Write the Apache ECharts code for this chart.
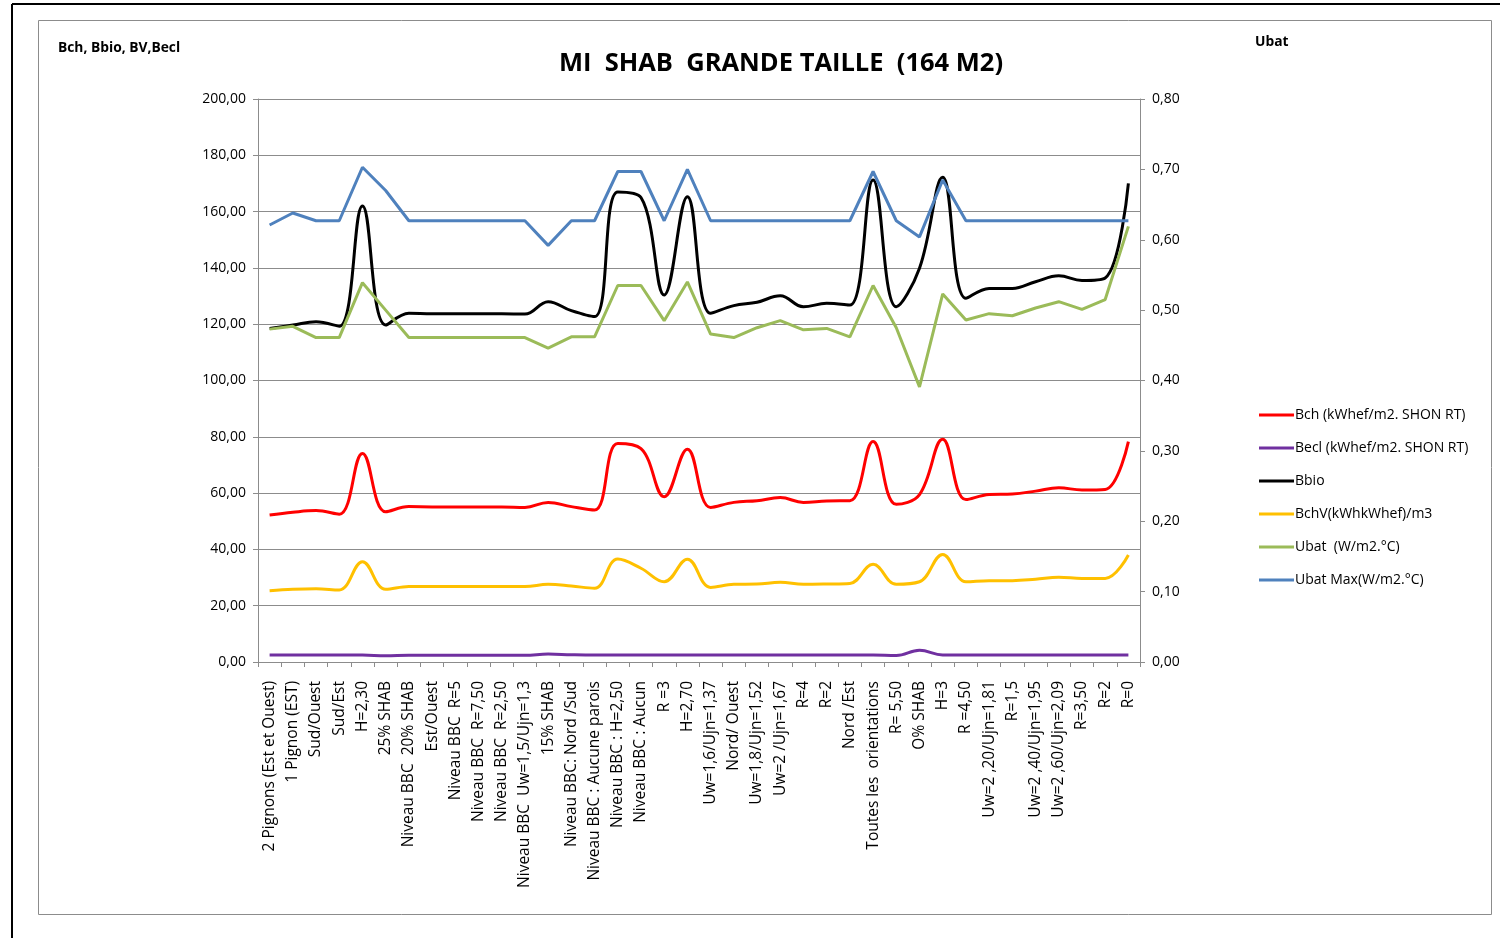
<!DOCTYPE html>
<html>
<head>
<meta charset="utf-8">
<script src="https://cdn.jsdelivr.net/npm/echarts@6/dist/echarts.min.js"></script>
<style>
  html, body { margin: 0; padding: 0; background: #fff; }
  #main { width: 1500px; height: 938px; }
</style>
</head>
<body>
<div id="main"></div>
<script>
// categories (x axis)
var categories = [
  '2 Pignons (Est et Ouest)', '1 Pignon (EST)', 'Sud/Ouest', 'Sud/Est', 'H=2,30',
  '25% SHAB', 'Niveau BBC  20% SHAB', 'Est/Ouest', 'Niveau BBC  R=5', 'Niveau BBC  R=7,50',
  'Niveau BBC  R=2,50', 'Niveau BBC  Uw=1,5/Ujn=1,3', '15% SHAB', 'Niveau BBC: Nord /Sud',
  'Niveau BBC : Aucune parois', 'Niveau BBC : H=2,50', 'Niveau BBC : Aucun', 'R =3', 'H=2,70',
  'Uw=1,6/Ujn=1,37', 'Nord/ Ouest', 'Uw=1,8/Ujn=1,52', 'Uw=2 /Ujn=1,67', 'R=4', 'R=2',
  'Nord /Est', 'Toutes les  orientations', 'R= 5,50', 'O% SHAB', 'H=3', 'R =4,50',
  'Uw=2 ,20/Ujn=1,81', 'R=1,5', 'Uw=2 ,40/Ujn=1,95', 'Uw=2 ,60/Ujn=2,09', 'R=3,50', 'R=2', 'R=0'
]

// left axis series
var bch = [52.2, 53.2, 53.8, 52.5, 74.1, 53.4, 55.2, 55.1, 55.1, 55.1,
  55.1, 54.9, 56.7, 55.2, 54.0, 77.6, 75.8, 58.7, 75.6, 54.9,
  56.7, 57.3, 58.4, 56.7, 57.2, 57.3, 78.3, 56.0, 59.5, 79.1,
  57.7, 59.5, 59.7, 60.7, 61.9, 61.1, 61.3, 78.3]
var becl = [2.5, 2.5, 2.5, 2.5, 2.5, 2.2, 2.4, 2.4, 2.4, 2.4,
  2.4, 2.4, 2.8, 2.6, 2.5, 2.5, 2.5, 2.5, 2.5, 2.5,
  2.5, 2.5, 2.5, 2.5, 2.5, 2.5, 2.5, 2.3, 4.2, 2.5,
  2.5, 2.5, 2.5, 2.5, 2.5, 2.5, 2.5, 2.5]
var bbio = [118.5, 119.7, 120.9, 119.3, 162.0, 119.7, 123.9, 123.7, 123.7, 123.7,
  123.7, 123.6, 128.0, 124.8, 122.7, 167.0, 165.0, 130.4, 165.3, 123.9,
  126.6, 127.8, 130.1, 126.2, 127.4, 126.8, 171.2, 126.2, 139.9, 172.2,
  129.2, 132.7, 132.7, 135.1, 137.2, 135.5, 136.4, 170.0]
var bchv = [25.3, 25.8, 26.0, 25.6, 35.6, 25.8, 26.8, 26.8, 26.8, 26.8,
  26.8, 26.8, 27.6, 27.0, 26.2, 36.6, 33.3, 28.5, 36.5, 26.5,
  27.6, 27.7, 28.3, 27.6, 27.7, 27.9, 34.7, 27.6, 28.5, 38.2,
  28.5, 28.9, 28.9, 29.4, 30.1, 29.7, 29.7, 38.0]

// right axis series
var ubat = [0.473, 0.477, 0.461, 0.461, 0.539, 0.500, 0.461, 0.461, 0.461, 0.461,
  0.461, 0.461, 0.446, 0.462, 0.462, 0.535, 0.535, 0.485, 0.540, 0.466,
  0.461, 0.475, 0.485, 0.472, 0.474, 0.462, 0.535, 0.475, 0.391, 0.523,
  0.486, 0.495, 0.492, 0.503, 0.512, 0.501, 0.515, 0.619]
var ubatMax = [0.621, 0.638, 0.627, 0.627, 0.703, 0.670, 0.627, 0.627, 0.627, 0.627,
  0.627, 0.627, 0.592, 0.627, 0.627, 0.697, 0.697, 0.627, 0.700, 0.627,
  0.627, 0.627, 0.627, 0.627, 0.627, 0.627, 0.697, 0.627, 0.604, 0.685,
  0.627, 0.627, 0.627, 0.627, 0.627, 0.627, 0.627, 0.627]

var fontFam = '"Open Sans", "Noto Sans", sans-serif'
function fr(v) { return v.toFixed(2).replace('.', ',') }

var chart = echarts.init(document.getElementById('main'))
var option = {
    animation: false,
    backgroundColor: '#fff',
    textStyle: { fontFamily: fontFam },
    title: {
        text: 'MI  SHAB  GRANDE TAILLE  (164 M2)',
        left: 776,
        textAlign: 'center',
        top: 46,
        textStyle: { fontSize: 25.5, fontWeight: 'bold', color: '#000', fontFamily: fontFam }
    },
    graphic: [
        { type: 'rect', shape: { x: 38.5, y: 20.5, width: 1453, height: 894 },
          style: { fill: 'none', stroke: '#8c8c8c', lineWidth: 1 } },
        { type: 'line', shape: { x1: 12, y1: 4, x2: 1500, y2: 4 }, style: { stroke: '#000', lineWidth: 2 } },
        { type: 'line', shape: { x1: 12, y1: 4, x2: 12, y2: 938 }, style: { stroke: '#000', lineWidth: 2 } },
        { type: 'text', left: 58, top: 41,
          style: { text: 'Bch, Bbio, BV,Becl', font: 'bold 13.8px ' + fontFam, fill: '#000' } },
        { type: 'text', left: 1255, top: 35,
          style: { text: 'Ubat', font: 'bold 13.8px ' + fontFam, fill: '#000' } }
    ],
    legend: {
        orient: 'vertical',
        left: 1254,
        top: 403,
        itemWidth: 35,
        itemHeight: 3,
        itemGap: 19,
        icon: 'rect',
        textStyle: { fontSize: 14, color: '#000', fontFamily: fontFam, padding: [0, 0, 0, -4] },
        data: ['Bch (kWhef/m2. SHON RT)', 'Becl (kWhef/m2. SHON RT)', 'Bbio',
               'BchV(kWhkWhef)/m3', 'Ubat  (W/m2.°C)', 'Ubat Max(W/m2.°C)']
    },
    grid: { left: 258, right: 360, top: 99, bottom: 276 },
    xAxis: {
        type: 'category',
        data: categories,
        boundaryGap: true,
        axisLine: { lineStyle: { color: '#8c8c8c' } },
        axisTick: { show: true, length: 5, interval: 0, lineStyle: { color: '#8c8c8c' } },
        axisLabel: { interval: 0, rotate: 90, fontSize: 15.5, color: '#000', margin: 19, fontFamily: fontFam }
    },
    yAxis: [
        {
            type: 'value', min: 0, max: 200, interval: 20,
            axisLine: { show: true, lineStyle: { color: '#8c8c8c' } },
            axisTick: { show: true, length: 5, lineStyle: { color: '#8c8c8c' } },
            axisLabel: { fontSize: 14, color: '#000', margin: 12, formatter: fr },
            splitLine: { lineStyle: { color: '#8c8c8c', width: 1 } }
        },
        {
            type: 'value', min: 0, max: 0.8, interval: 0.1,
            axisLine: { show: true, lineStyle: { color: '#8c8c8c' } },
            axisTick: { show: true, length: 5, lineStyle: { color: '#8c8c8c' } },
            axisLabel: { fontSize: 14, color: '#000', margin: 12, formatter: fr },
            splitLine: { show: false }
        }
    ],
    series: [
        { name: 'Bch (kWhef/m2. SHON RT)', type: 'line', data: bch, smooth: 0.4, symbol: 'none',
          itemStyle: { color: '#ff0000' }, lineStyle: { color: '#ff0000', width: 3 } },
        { name: 'Becl (kWhef/m2. SHON RT)', type: 'line', data: becl, smooth: 0.4, symbol: 'none',
          itemStyle: { color: '#7030a0' }, lineStyle: { color: '#7030a0', width: 3 } },
        { name: 'Bbio', type: 'line', data: bbio, smooth: 0.4, symbol: 'none',
          itemStyle: { color: '#000' }, lineStyle: { color: '#000', width: 3 } },
        { name: 'BchV(kWhkWhef)/m3', type: 'line', data: bchv, smooth: 0.4, symbol: 'none',
          itemStyle: { color: '#ffc000' }, lineStyle: { color: '#ffc000', width: 3 } },
        { name: 'Ubat  (W/m2.°C)', type: 'line', yAxisIndex: 1, data: ubat, symbol: 'none',
          itemStyle: { color: '#9bbb59' }, lineStyle: { color: '#9bbb59', width: 3 } },
        { name: 'Ubat Max(W/m2.°C)', type: 'line', yAxisIndex: 1, data: ubatMax, symbol: 'none',
          itemStyle: { color: '#4f81bd' }, lineStyle: { color: '#4f81bd', width: 3 } }
    ]
}
chart.setOption(option)
</script>
</body>
</html>
